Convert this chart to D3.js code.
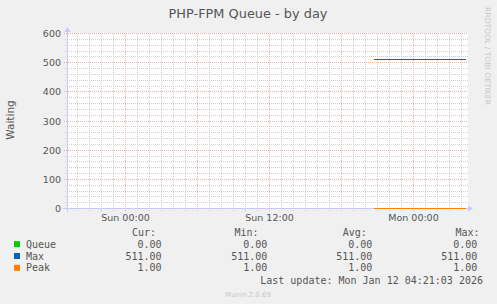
<!DOCTYPE html>
<html><head><meta charset="utf-8">
<script src="https://cdn.jsdelivr.net/npm/d3@7"></script>
<style>
html,body{margin:0;padding:0;background:#f0f0f0;}
svg{display:block;}
text{font-family:"DejaVu Sans",sans-serif;}
.mono{font-family:"DejaVu Sans Mono",monospace;}
</style></head>
<body>
<script>
// ---- data ----
const title = "PHP-FPM Queue - by day";
const yLabel = "Waiting";
const timeDomain = ["2026-01-10T19:10", "2026-01-12T04:30"];
const xTickTimes = ["2026-01-11T00:00", "2026-01-11T12:00", "2026-01-12T00:00"];
const xTickLabels = ["Sun 00:00", "Sun 12:00", "Mon 00:00"];
const yTicks = [0, 100, 200, 300, 400, 500, 600];
const sampleTimes = ["2026-01-11T20:40", "2026-01-12T00:00", "2026-01-12T04:20"];
const queueValues = [0, 0, 0];
const maxValues = [511, 511, 511];
const peakValues = [1, 1, 1];
const seriesNames = ["Queue", "Max", "Peak"];
const seriesColors = ["#00cc00", "#0066b3", "#ff8000"];
const legendHeaders = ["Cur:", "Min:", "Avg:", "Max:"];
const legendStats = [
  ["0.00", "0.00", "0.00", "0.00"],
  ["511.00", "511.00", "511.00", "511.00"],
  ["1.00", "1.00", "1.00", "1.00"]
];
const lastUpdate = "Last update: Mon Jan 12 04:21:03 2026";
const watermark = "Munin 2.0.69";
const sideText = "RRDTOOL / TOBI OETIKER";

// ---- chart ----
const W = 497, H = 304;
const svg = d3.select("body").append("svg").attr("width", W).attr("height", H);
svg.append("rect").attr("width", W).attr("height", H).attr("fill", "#f0f0f0");

const parse = s => new Date(s);
const x = d3.scaleTime().domain(timeDomain.map(parse)).range([67.5, 467.5]);
const y = d3.scaleLinear().domain([0, 600]).range([208.5, 33.5]);

// plot background
svg.append("rect").attr("x", 67).attr("y", 33).attr("width", 401).attr("height", 176).attr("fill", "#ffffff");

const g = svg.append("g").attr("shape-rendering", "crispEdges");
const minorColor = "#cfcfcf", majorColor = "#f0b0b0";

// minor grid
const hours = d3.timeHour.range(x.domain()[0], x.domain()[1]);
g.selectAll(".vmin").data(hours).enter().append("line")
  .attr("x1", d => Math.floor(x(d)) + 0.5).attr("x2", d => Math.floor(x(d)) + 0.5)
  .attr("y1", y(600)).attr("y2", y(0) + 2)
  .attr("stroke", minorColor).attr("stroke-dasharray", "1,1");
const yMinor = d3.range(0, 601, 20).filter(v => v % 100 !== 0);
g.selectAll(".hmin").data(yMinor).enter().append("line")
  .attr("x1", 65).attr("x2", 468)
  .attr("y1", d => Math.floor(y(d)) + 0.5).attr("y2", d => Math.floor(y(d)) + 0.5)
  .attr("stroke", minorColor).attr("stroke-dasharray", "1,1");

// major grid
const sixHours = d3.timeHour.every(6).range(x.domain()[0], x.domain()[1]);
g.selectAll(".vmaj").data(sixHours).enter().append("line")
  .attr("x1", d => Math.floor(x(d)) + 0.5).attr("x2", d => Math.floor(x(d)) + 0.5)
  .attr("y1", y(600)).attr("y2", y(0) + 3)
  .attr("stroke", majorColor).attr("stroke-dasharray", "1,1");
g.selectAll(".hmaj").data(yTicks.filter(v => v > 0)).enter().append("line")
  .attr("x1", 64).attr("x2", 468)
  .attr("y1", d => Math.floor(y(d)) + 0.5).attr("y2", d => Math.floor(y(d)) + 0.5)
  .attr("stroke", majorColor).attr("stroke-dasharray", "1,1");

// series
const samples = sampleTimes.map(parse);
const seriesValues = [queueValues, maxValues, peakValues];
const line = d3.line().x(d => x(d[0])).y(d => Math.floor(y(d[1])) + 0.5);
seriesValues.forEach((vals, i) => {
  g.append("path").datum(samples.map((t, j) => [t, vals[j]]))
    .attr("d", line).attr("fill", "none")
    .attr("stroke", seriesColors[i]).attr("stroke-width", 1);
});

// axes
const axisColor = "#c4caf4";
g.append("line").attr("x1", 63).attr("x2", 469).attr("y1", 208.5).attr("y2", 208.5).attr("stroke", axisColor);
g.append("line").attr("x1", 67.5).attr("x2", 67.5).attr("y1", 212).attr("y2", 31).attr("stroke", axisColor);
// redraw peak on top of axis
g.append("path").datum(samples.map((t, j) => [t, peakValues[j]]))
  .attr("d", line).attr("fill", "none").attr("stroke", seriesColors[2]);
svg.append("path").attr("d", "M468,205.5 L473,208.5 L468,211.5 Z").attr("fill", axisColor);
svg.append("path").attr("d", "M64.5,32 L67.5,27 L70.5,32 Z").attr("fill", axisColor);

// y tick labels
svg.selectAll(".ytl").data(yTicks).enter().append("text")
  .attr("x", 61).attr("y", d => y(d) + 3.5).attr("text-anchor", "end")
  .attr("font-size", 9.5).attr("fill", "#555").text(d => d);

// x tick labels
svg.selectAll(".xtl").data(xTickTimes).enter().append("text")
  .attr("x", d => x(parse(d))).attr("y", 221).attr("text-anchor", "middle")
  .attr("font-size", 9.5).attr("fill", "#555").text((d, i) => xTickLabels[i]);

// title
svg.append("text").attr("x", 248).attr("y", 18).attr("text-anchor", "middle")
  .attr("font-size", 12.9).attr("fill", "#555").text(title);

// y label
svg.append("text").attr("transform", "translate(14,120) rotate(-90)").attr("text-anchor", "middle")
  .attr("font-size", 10.5).attr("fill", "#555").text(yLabel);

// side text
svg.append("text").attr("transform", "translate(484.5,56) rotate(90)").attr("text-anchor", "middle")
  .attr("font-size", 7.6).attr("fill", "#c8c8c8").text(sideText);

// legend
const headerEnds = [156, 258.5, 366.8, 479.5];
const valueEnds = [161.6, 267.3, 372.3, 477.3];
const rowBase = [247.7, 259.5, 271.3];
svg.selectAll(".lh").data(legendHeaders).enter().append("text").attr("class", "mono")
  .attr("x", (d, i) => headerEnds[i]).attr("y", 235.5).attr("text-anchor", "end")
  .attr("font-size", 10).attr("fill", "#555").text(d => d);
seriesNames.forEach((name, r) => {
  svg.append("rect").attr("x", 14).attr("y", rowBase[r] - 6.5).attr("width", 6).attr("height", 6)
    .attr("fill", seriesColors[r]);
  svg.append("text").attr("class", "mono").attr("x", 26).attr("y", rowBase[r])
    .attr("font-size", 10).attr("fill", "#555").text(name);
  legendStats[r].forEach((v, c) => {
    svg.append("text").attr("class", "mono").attr("x", valueEnds[c]).attr("y", rowBase[r])
      .attr("text-anchor", "end").attr("font-size", 10).attr("fill", "#555").text(v);
  });
});
svg.append("text").attr("class", "mono").attr("x", 483).attr("y", 283.5).attr("text-anchor", "end")
  .attr("font-size", 10).attr("fill", "#555").text(lastUpdate);
svg.append("text").attr("x", 248).attr("y", 296.5).attr("text-anchor", "middle")
  .attr("font-size", 7).attr("fill", "#c8c8c8").text(watermark);
</script>
</body></html>
